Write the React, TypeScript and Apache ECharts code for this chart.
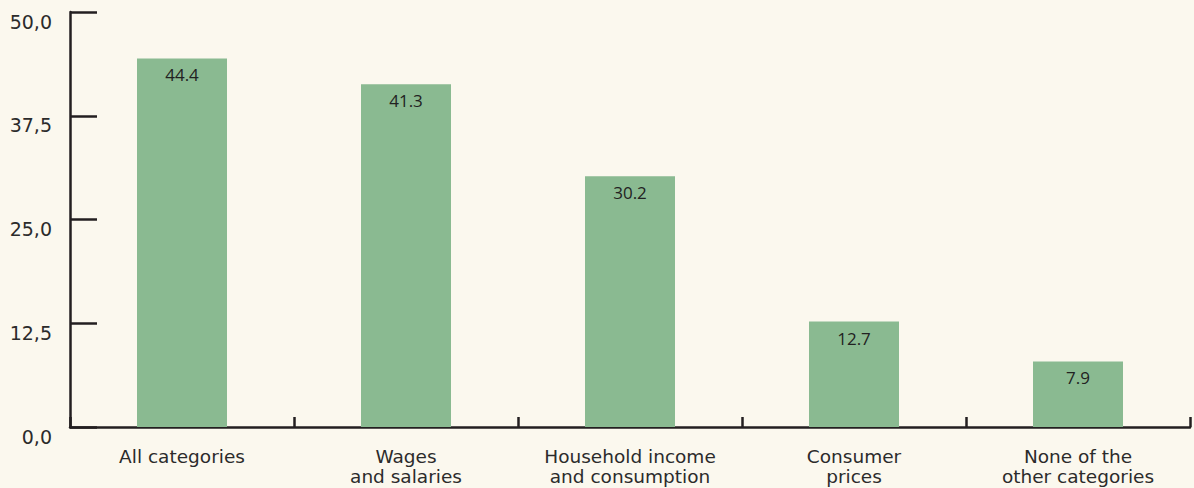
import React, { useEffect, useRef } from "react";
import * as echarts from "echarts";

const categories = [
  "All categories",
  "Wages\nand salaries",
  "Household income\nand consumption",
  "Consumer\nprices",
  "None of the\nother categories",
];
const values = [44.4, 41.3, 30.2, 12.7, 7.9];
const yMin = 0;
const yMax = 50;
const yInterval = 12.5;

export default function App() {
  const ref = useRef<HTMLDivElement>(null);
  useEffect(() => {
    if (!ref.current) return;
    const chart = echarts.init(ref.current, undefined, { renderer: "svg" });
    const axisColor = "#231f20";
    chart.setOption({
      animation: false,
      backgroundColor: "#fbf8ee",
      grid: { left: 70, right: 4, top: 12, bottom: 61, containLabel: false },
      xAxis: {
        type: "category",
        data: categories,
        axisLine: { show: true, lineStyle: { color: axisColor, width: 2.5 } },
        axisTick: {
          show: true,
          inside: true,
          length: 10,
          alignWithLabel: false,
          lineStyle: { color: axisColor, width: 2.5 },
        },
        axisLabel: {
          interval: 0,
          margin: 19,
          fontFamily: "DejaVu Sans",
          fontSize: 18.5,
          lineHeight: 20,
          color: "#2b2b2b",
        },
      },
      yAxis: {
        type: "value",
        min: yMin,
        max: yMax,
        interval: yInterval,
        splitLine: { show: false },
        axisLine: { show: true, lineStyle: { color: axisColor, width: 2.5 } },
        axisTick: {
          show: true,
          inside: true,
          length: 27,
          lineStyle: { color: axisColor, width: 2.5 },
        },
        axisLabel: {
          margin: 18,
          fontFamily: "DejaVu Sans",
          fontSize: 19,
          color: "#2b2b2b",
          verticalAlign: "top",
          formatter: (v: number) => v.toFixed(1).replace(".", ","),
        },
      },
      series: [
        {
          type: "bar",
          data: values,
          barWidth: 90,
          itemStyle: { color: "#8aba91" },
          label: {
            show: true,
            position: "insideTop",
            distance: 8,
            fontFamily: "Open Sans",
            fontSize: 17,
            color: "#222222",
            formatter: (p: any) => p.value.toFixed(1),
          },
        },
      ],
    });
    return () => chart.dispose();
  }, []);
  return <div ref={ref} style={{ width: 1194, height: 488, position: "absolute", left: 0, top: 0 }} />;
}
